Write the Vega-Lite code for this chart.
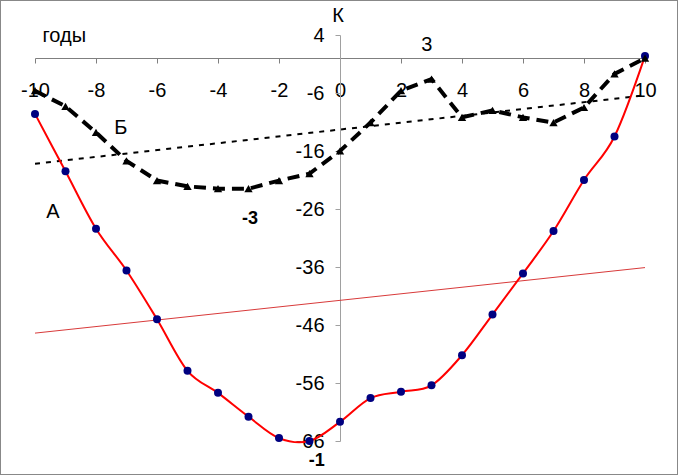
{
  "$schema": "https://vega.github.io/schema/vega-lite/v6.json",
  "width": 678,
  "height": 475,
  "autosize": {"type": "none"},
  "padding": 0,
  "background": "white",
  "config": {
    "view": {"stroke": "#888888", "strokeWidth": 2},
    "font": "Liberation Sans"
  },
  "datasets": {
    "s1": [
      {"x": -10, "v": -9.6}, {"x": -9, "v": -19.5}, {"x": -8, "v": -29.4}, {"x": -7, "v": -36.6},
      {"x": -6, "v": -45.0}, {"x": -5, "v": -53.9}, {"x": -4, "v": -57.7}, {"x": -3, "v": -61.8},
      {"x": -2, "v": -65.5}, {"x": -1, "v": -66.0}, {"x": 0, "v": -62.7}, {"x": 1, "v": -58.6},
      {"x": 2, "v": -57.5}, {"x": 3, "v": -56.4}, {"x": 4, "v": -51.2}, {"x": 5, "v": -44.2},
      {"x": 6, "v": -37.1}, {"x": 7, "v": -29.8}, {"x": 8, "v": -21.0}, {"x": 9, "v": -13.5},
      {"x": 10, "v": 0.4}
    ],
    "s3": [
      {"x": -10, "v": -5.6}, {"x": -9, "v": -8.3}, {"x": -8, "v": -12.8}, {"x": -7, "v": -17.7},
      {"x": -6, "v": -21.1}, {"x": -5, "v": -22.1}, {"x": -4, "v": -22.5}, {"x": -3, "v": -22.5},
      {"x": -2, "v": -21.1}, {"x": -1, "v": -19.9}, {"x": 0, "v": -16.0}, {"x": 1, "v": -11.1},
      {"x": 2, "v": -5.6}, {"x": 3, "v": -3.6}, {"x": 4, "v": -10.2}, {"x": 5, "v": -9.0},
      {"x": 6, "v": -10.2}, {"x": 7, "v": -11.1}, {"x": 8, "v": -8.5}, {"x": 9, "v": -2.7},
      {"x": 10, "v": 0.0}
    ],
    "t1": [{"x": -10, "v": -47.4}, {"x": 10, "v": -36.1}],
    "t3": [{"x": -10, "v": -18.2}, {"x": 10, "v": -6.4}],
    "notes": [
      {"x": 2.85, "v": 2.28, "label": "3"},
      {"x": -7.19, "v": -11.95, "label": "Б"},
      {"x": -9.41, "v": -26.6, "label": "А"}
    ],
    "boldnotes": [
      {"x": -2.95, "v": -27.7, "label": "-3"},
      {"x": -0.76, "v": -69.5, "label": "-1"}
    ]
  },
  "encoding": {
    "x": {
      "field": "x",
      "type": "quantitative",
      "scale": {"domain": [-10, 10], "range": [35, 645], "nice": false, "zero": false},
      "axis": {
        "orient": "bottom",
        "offset": -417,
        "values": [-10, -8, -6, -4, -2, 0, 2, 4, 6, 8, 10],
        "labelExpr": "toString(datum.value)",
        "grid": false,
        "domainColor": "#7f7f7f",
        "tickColor": "#7f7f7f",
        "tickSize": 5,
        "labelFontSize": 20,
        "labelFont": "Liberation Sans",
        "labelColor": "black",
        "labelPadding": 17,
        "labelFlush": false,
        "labelOverlap": false,
        "title": "годы",
        "titleFont": "Liberation Sans",
        "titleFontSize": 20,
        "titleFontWeight": "normal",
        "titleColor": "black",
        "titleX": 42,
        "titleY": -16.7,
        "titleAlign": "left",
        "titleBaseline": "alphabetic"
      }
    },
    "y": {
      "field": "v",
      "type": "quantitative",
      "scale": {"domain": [-66, 4], "range": [441, 35], "nice": false, "zero": false},
      "axis": {
        "orient": "left",
        "offset": -340,
        "values": [4, -6, -16, -26, -36, -46, -56, -66],
        "labelExpr": "toString(datum.value)",
        "grid": false,
        "domainColor": "#a0a0a0",
        "tickColor": "#a0a0a0",
        "tickSize": 5,
        "labelFontSize": 20,
        "labelFont": "Liberation Sans",
        "labelColor": "black",
        "labelPadding": 11,
        "labelFlush": false,
        "labelOverlap": false,
        "title": "К",
        "titleFont": "Liberation Sans",
        "titleFontSize": 20,
        "titleFontWeight": "normal",
        "titleColor": "black",
        "titleAngle": 0,
        "titleX": -2.5,
        "titleY": 21.7,
        "titleAlign": "center",
        "titleBaseline": "alphabetic"
      }
    }
  },
  "layer": [
    {
      "data": {"name": "t1"},
      "mark": {"type": "line", "color": "#d83a3a", "strokeWidth": 1}
    },
    {
      "data": {"name": "t3"},
      "mark": {"type": "line", "color": "black", "strokeWidth": 2, "strokeDash": [5, 6]}
    },
    {
      "data": {"name": "s1"},
      "mark": {"type": "line", "color": "#ff0000", "strokeWidth": 2, "interpolate": "cardinal"}
    },
    {
      "data": {"name": "s1"},
      "mark": {"type": "point", "shape": "circle", "filled": true, "color": "#000080", "opacity": 1, "size": 64}
    },
    {
      "data": {"name": "s3"},
      "mark": {"type": "line", "color": "black", "strokeWidth": 4, "strokeDash": [12, 7]}
    },
    {
      "data": {"name": "s3"},
      "mark": {"type": "point", "shape": "triangle-up", "filled": true, "color": "black", "opacity": 1, "size": 70}
    },
    {
      "data": {"name": "notes"},
      "mark": {"type": "text", "fontSize": 20, "font": "Liberation Sans", "color": "black", "align": "center", "baseline": "middle"},
      "encoding": {"text": {"field": "label"}}
    },
    {
      "data": {"name": "boldnotes"},
      "mark": {"type": "text", "fontSize": 18, "fontWeight": "bold", "font": "Liberation Sans", "color": "black", "align": "center", "baseline": "middle"},
      "encoding": {"text": {"field": "label"}}
    }
  ]
}
